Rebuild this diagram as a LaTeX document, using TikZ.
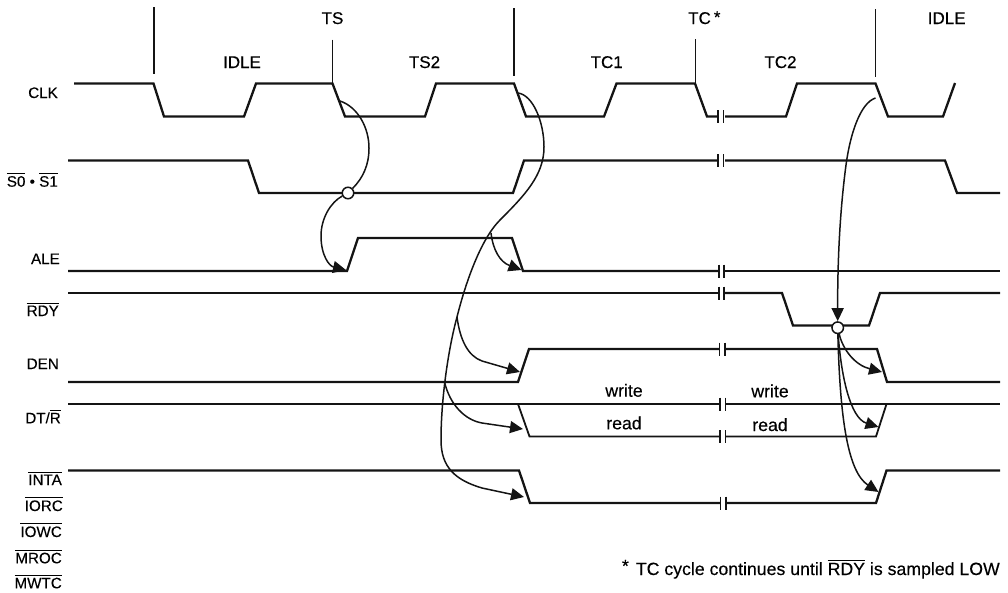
\documentclass[tikz,border=0pt]{standalone}
\usepackage{fontspec}
\setmainfont{Liberation Sans}[FakeBold=0.25]
\usetikzlibrary{arrows.meta}
\newcommand{\ovl}[1]{\leavevmode\vbox{\hrule height 1pt \kern 2pt \hbox{#1}}}
\tikzset{
  wave/.style={line width=2.3pt,line join=miter,draw=black!92},
  thinwave/.style={line width=1.8pt,line join=miter,draw=black!92},
  tick/.style={line width=1.7pt,draw=black!92},
  bar/.style={line width=1.6pt,draw=black!92},
  conn/.style={line width=1.5pt,draw=black!92},
  connarrow/.style={conn,-{Triangle[length=13pt,width=12pt]}},
  sample/.style={circle,draw=black!92,fill=white,line width=1.5pt,minimum size=11.5pt,inner sep=0pt},
  state/.style={font=\fontsize{17}{19}\selectfont,inner sep=0pt,anchor=base},
  siglabel/.style={font=\fontsize{15.2}{18}\selectfont,inner sep=0pt,anchor=base east},
  note/.style={font=\fontsize{17.7}{20}\selectfont,inner sep=0pt,anchor=base},
}
\newcommand{\brk}[3]{\draw[bar] (#1,#3-6.5) -- (#1,#3+6.5) (#2,#3-6.5) -- (#2,#3+6.5);}
\begin{document}
\begin{tikzpicture}[x=1pt,y=-1pt]
\useasboundingbox (0,0) rectangle (1008,592);
% phase ticks
\draw[tick] (154,7) -- (154,74);
\draw[tick] (332.5,39.5) -- (332.5,84);
\draw[tick] (514,8) -- (514,76);
\draw[tick] (695.5,39) -- (695.5,84);
\draw[tick] (875.5,9) -- (875.5,77);
% state labels
\node[state] (ts) at (332.5,24) {TS};
\node[state] (idleA) at (242,68) {IDLE};
\node[state] (tsb) at (424.5,68) {TS2};
\node[state] (tca) at (606.7,68) {TC1};
\node[state,anchor=base west] (tcs) at (688,24) {TC\hspace{3pt}\raisebox{1pt}{*}};
\node[state] (tcb) at (780.5,68) {TC2};
\node[state] (idleB) at (946.7,24) {IDLE};
% signal labels
\node[siglabel] (lclk) at (58,98) {CLK};
\node[siglabel] (ls) at (58,186.7) {\ovl{S0} \textbullet{} \ovl{S1}};
\node[siglabel] (lale) at (60,264) {ALE};
\node[siglabel] (lrdy) at (59,316) {\ovl{RDY}};
\node[siglabel] (lden) at (59,369) {DEN};
\node[siglabel] (ldt) at (61,423.3) {DT/\ovl{R}};
\node[siglabel] (lint) at (62,485) {\ovl{INTA}};
\node[siglabel] (lior) at (63,511) {\ovl{IORC}};
\node[siglabel] (liow) at (62,537) {\ovl{IOWC}};
\node[siglabel] (lmr) at (62,563.3) {\ovl{MROC}};
\node[siglabel] (lmw) at (62,588.3) {\ovl{MWTC}};
% waveforms
\draw[wave] (74,83.5) -- (153.5,83.5) -- (164,116.5) -- (244,116.5) -- (256,83.5) -- (332.5,83.5) -- (345,116.5) -- (425,116.5) -- (436,83.5) -- (514,83.5) -- (526,116.5) -- (604,116.5) -- (616.5,83.5) -- (695,83.5) -- (707,116.5) -- (717,116.5);
\draw[wave] (725,116.5) -- (786,116.5) -- (797,83.5) -- (875.5,83.5) -- (888,116.5) -- (943,116.5) -- (955,83);
\draw[wave] (68,160.5) -- (248,160.5) -- (259,193) -- (513,193) -- (524,160.5) -- (717,160.5);
\draw[wave] (725,160.5) -- (945,160.5) -- (957,193) -- (1000,193);
\draw[wave] (68,271) -- (347,271) -- (358,238) -- (512,238) -- (523,271) -- (718,271);
\draw[wave] (725,271) -- (1000,271);
\draw[wave] (68,293) -- (718,293);
\draw[wave] (725,293) -- (782,293) -- (793,325.5) -- (869,325.5) -- (880,293) -- (1000,293);
\draw[wave] (68,382) -- (518,382) -- (529,349) -- (719,349);
\draw[wave] (726,349) -- (877,349) -- (887,382) -- (1000,382);
\draw[wave] (68,404) -- (719,404);
\draw[wave] (726,404) -- (1000,404);
\draw[thinwave] (518,404) -- (529.5,436.5) -- (719,436.5);
\draw[thinwave] (726,436.5) -- (876,436.5) -- (886.5,404);
\draw[wave] (68,470.5) -- (519,470.5) -- (530,503) -- (720,503);
\draw[wave] (727,503) -- (876,503) -- (886.5,470.5) -- (1000,470.5);
% breaks
\brk{718}{723.5}{116.5}
\brk{718}{723.5}{160.5}
\brk{719}{724}{271}
\brk{719}{724}{293}
\brk{719.5}{725}{349}
\brk{720}{725.5}{404}
\brk{720}{725.5}{436.5}
\brk{720.5}{726}{503}
% text
\node[note] (w1) at (624,396.7) {write};
\node[note] (w2) at (770,397.3) {write};
\node[note] (r1) at (624,429.3) {read};
\node[note] (r2) at (770,431) {read};
\node[note,anchor=base east] (fn) at (1000,575) {\raisebox{3pt}{*}\hspace{7pt}TC cycle continues until \ovl{RDY} is sampled LOW};
% sampling points
\node[sample] (sa) at (348,193) {};
\node[sample] (sb) at (837.7,327.7) {};
% named connector ends
\coordinate (clkA) at (340,101);
\coordinate (clkB) at (518,93);
\coordinate (clkC) at (875.5,98);
\coordinate (aleUp) at (346,270);
\coordinate (aleDn) at (521.5,270);
\coordinate (denUp) at (520,372);
\coordinate (dtDn) at (523,429);
\coordinate (intDn) at (524,497);
\coordinate (denDn) at (882,372);
\coordinate (dtUp) at (878.5,427);
\coordinate (intUp) at (878.5,492);
\coordinate (trunkA) at (491,233);
\coordinate (trunkB) at (457,317);
\coordinate (trunkC) at (444.5,382);
% connectors
\draw[conn] (clkA) .. controls (358,107) and (369,128) .. (369,148) .. controls (369,165) and (363,178) .. (sa);
\draw[connarrow] (sa) .. controls (331,202) and (321,218) .. (321,236) .. controls (321,255) and (329,266) .. (aleUp);
\draw[connarrow] (clkB) .. controls (533,95) and (544,122) .. (544,147) .. controls (544,175) and (525,195) .. (500,220) .. controls (480,240) and (465,285) .. (457,317) .. controls (448,350) and (441,400) .. (441,440) .. controls (441,467) and (455,480) .. (482,488) -- (intDn);
\draw[connarrow] (trunkA) .. controls (493,250) and (500,262) .. (aleDn);
\draw[connarrow] (trunkB) .. controls (460,340) and (468,356) .. (482,361) -- (denUp);
\draw[connarrow] (trunkC) .. controls (450,405) and (465,420) .. (482,423) -- (dtDn);
\draw[connarrow] (clkC) .. controls (860,103) and (850,135) .. (846,165) .. controls (840,210) and (837.5,260) .. (sb);
\draw[connarrow] (sb) .. controls (843,350) and (855,365) .. (denDn);
\draw[connarrow] (sb) .. controls (841,375) and (850,418) .. (dtUp);
\draw[connarrow] (sb) .. controls (840,420) and (848,472) .. (intUp);
\end{tikzpicture}
\end{document}
